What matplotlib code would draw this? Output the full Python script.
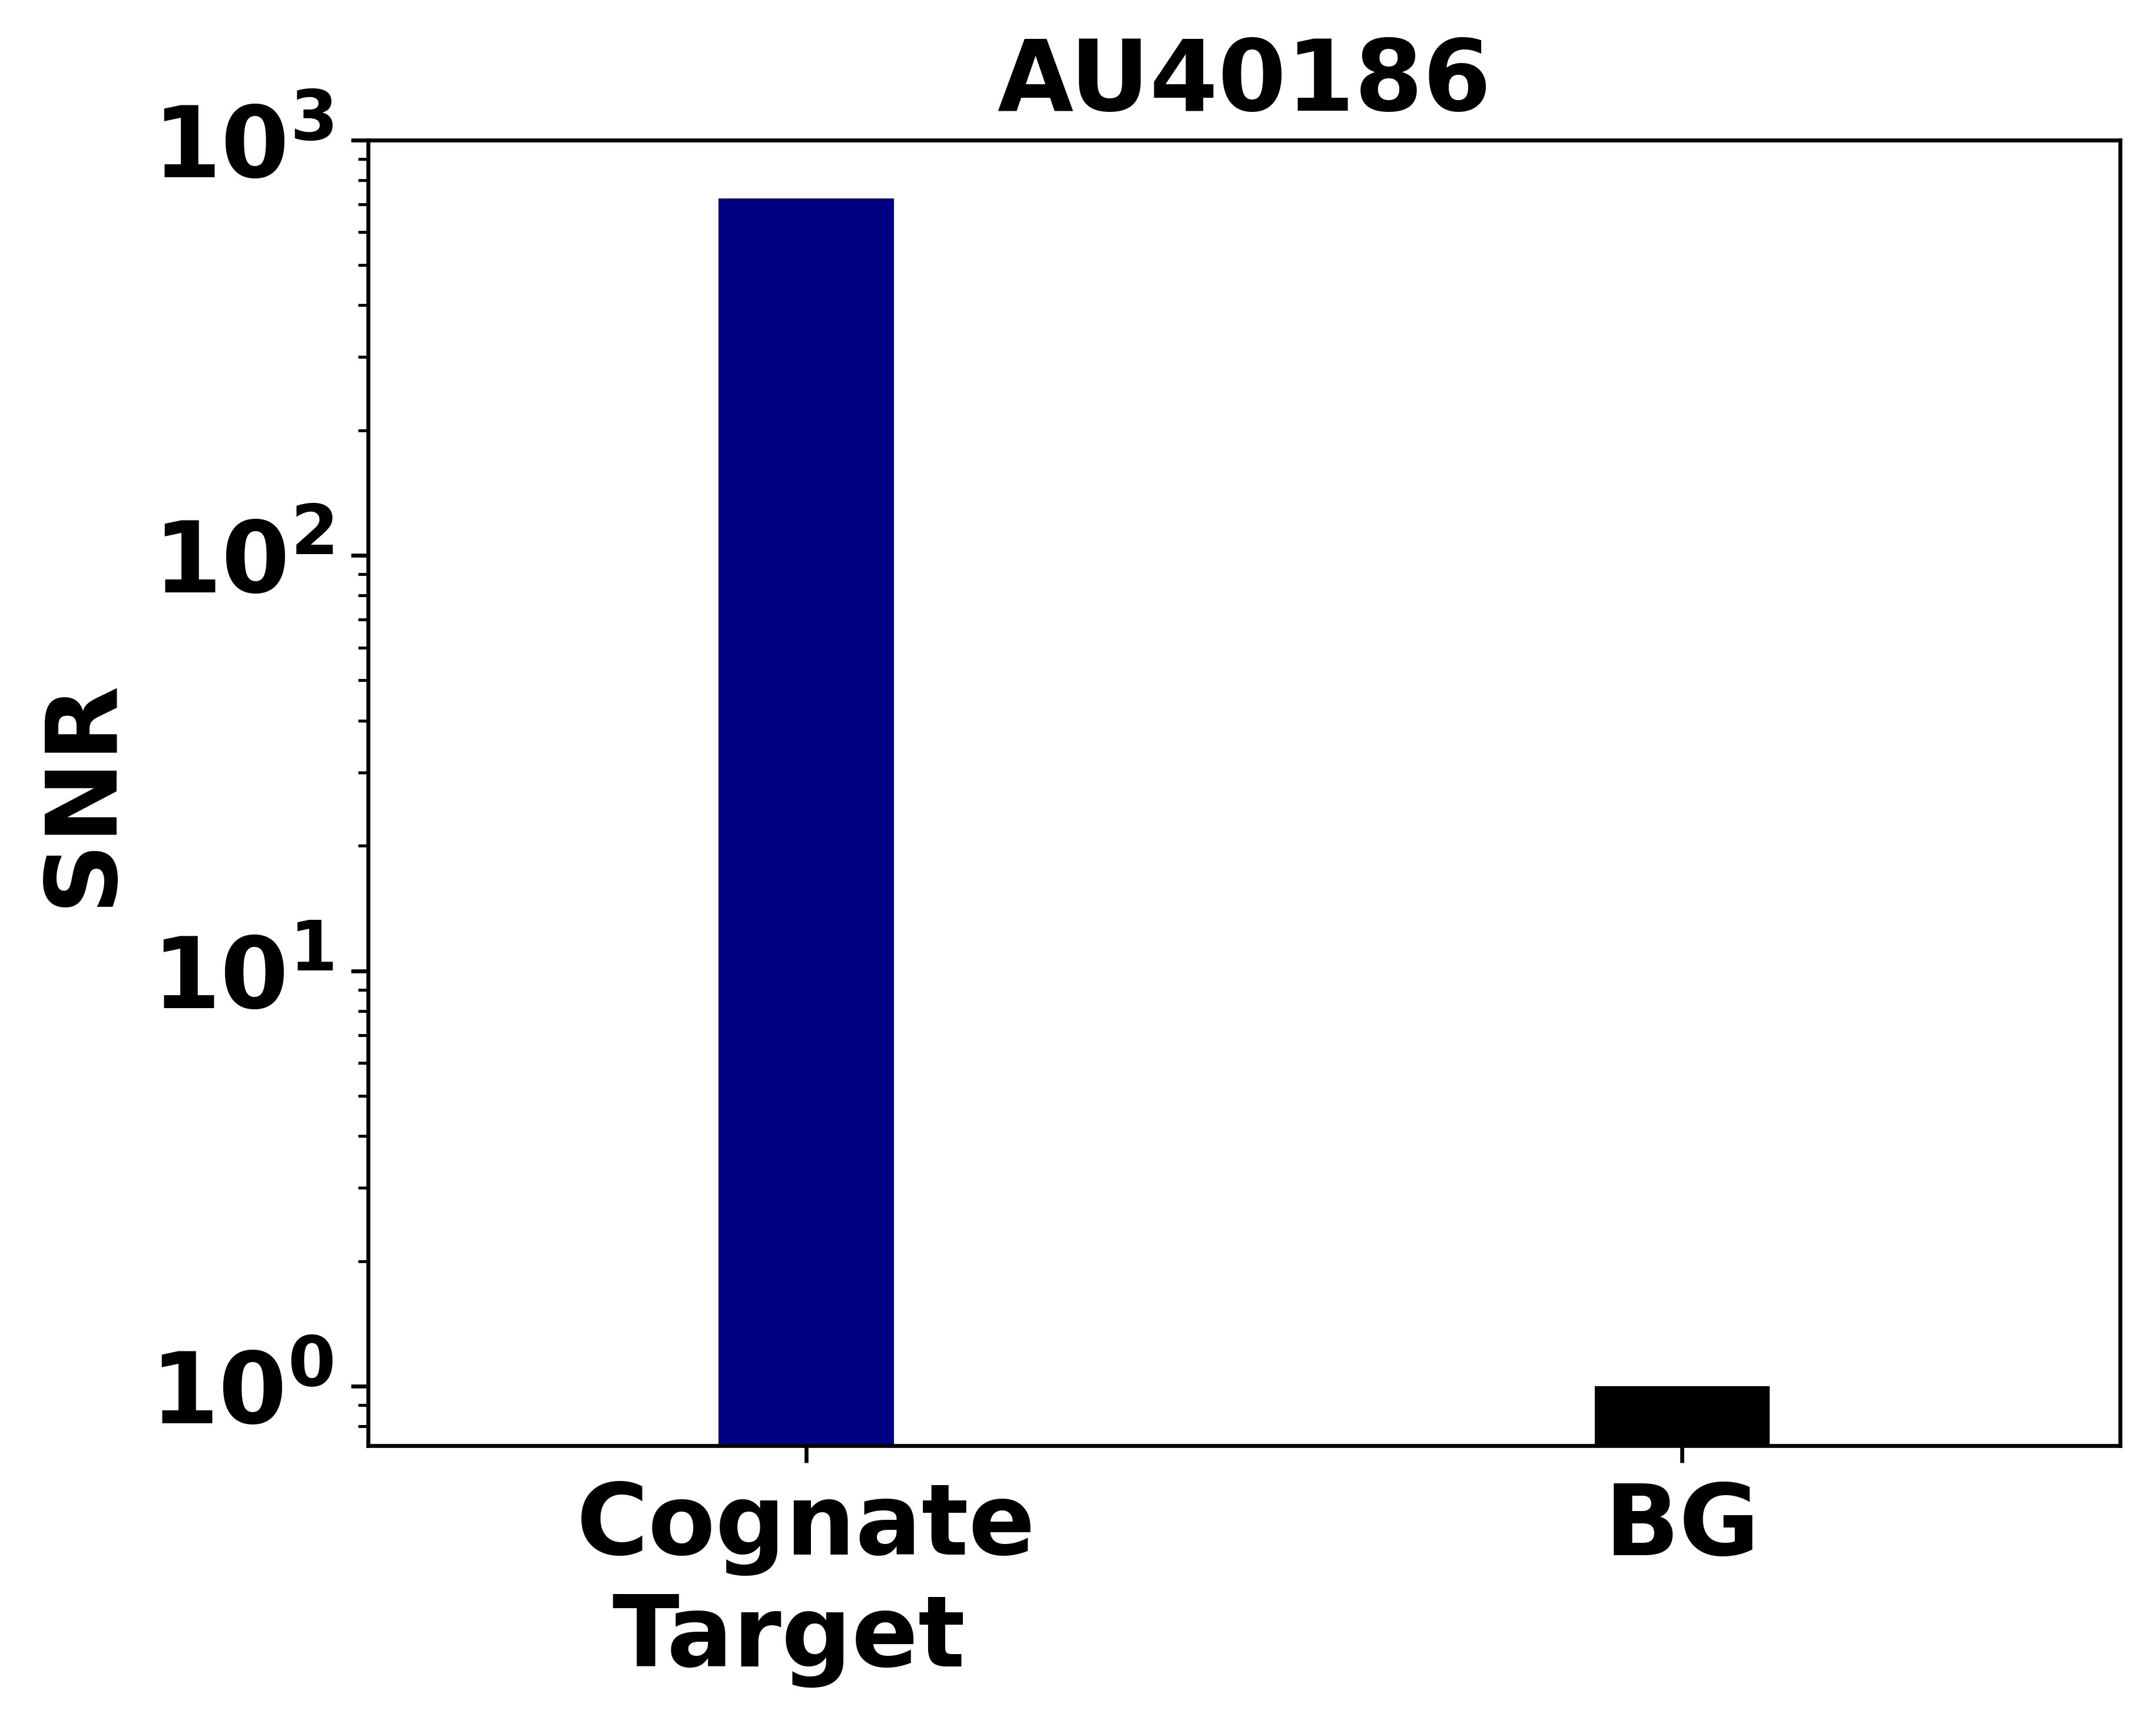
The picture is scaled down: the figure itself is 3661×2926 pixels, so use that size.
import matplotlib
matplotlib.use('Agg')
import numpy as np
import matplotlib.pyplot as plt

# Values
categories = ['Cognate\nTarget ', 'BG']
snr_values = [724.0, 1.0]
bar_colors = ['navy', 'black']
strain = 'AU40186'

plt.rcParams['font.family'] = 'DejaVu Sans'
plt.rcParams['font.weight'] = 'bold'
plt.rcParams['mathtext.default'] = 'bf'

fig = plt.figure(figsize=(3661 / 600, 2926 / 600), dpi=600)
ax = fig.add_axes([0.1707, 0.1611, 0.9834 - 0.1707, 0.9188 - 0.1611])

x = np.arange(len(categories))
ax.bar(x, snr_values, width=0.2, color=bar_colors)

ax.set_yscale('log')
ax.set_ylim(0.72, 1000)
ax.set_xlim(-0.5, 1.5)

ax.set_xticks(x)
ax.set_xticklabels(categories, fontsize=20, fontweight='bold')
ax.tick_params(axis='y', labelsize=20)
for lbl in ax.get_yticklabels():
    lbl.set_fontweight('bold')

ax.set_ylabel('SNR', fontsize=20, fontweight='bold')
ax.set_title(strain, fontsize=20, fontweight='bold')

fig.savefig('out.png', dpi=600)
